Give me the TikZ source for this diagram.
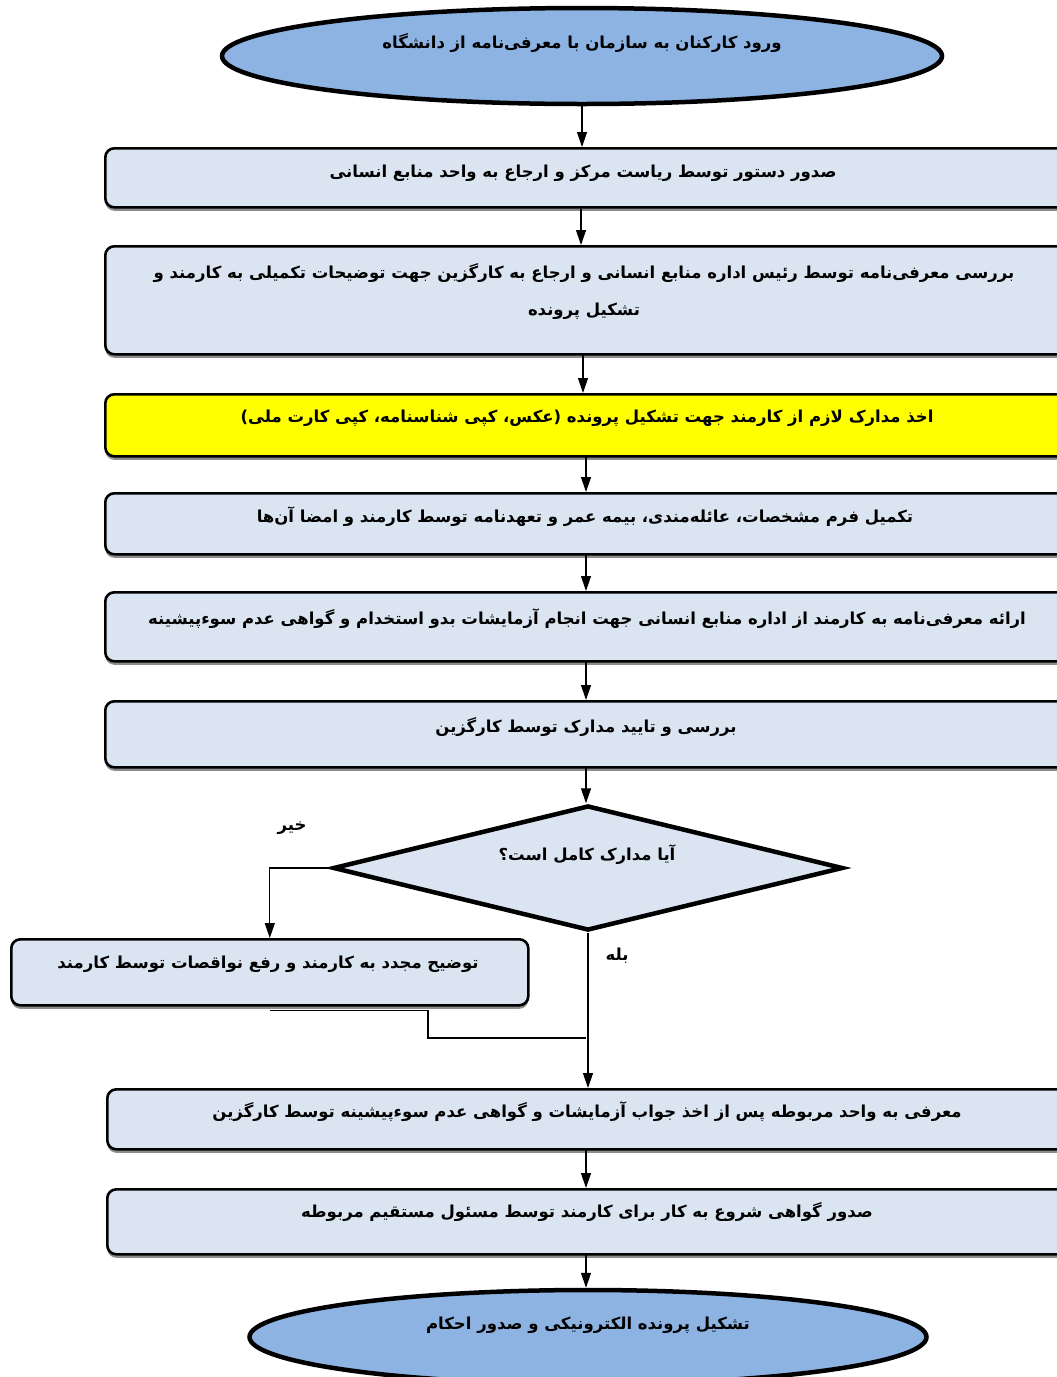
\documentclass[tikz,border=0pt]{standalone}
\usepackage{fontspec}
\newfontfamily\fa[Script=Arabic]{DejaVu Sans}
\TeXXeTstate=1
\usetikzlibrary{shapes.geometric,shadows,arrows.meta}
\definecolor{ellblue}{RGB}{141,179,226}
\definecolor{boxblue}{RGB}{219,229,241}
\definecolor{yel}{RGB}{255,255,0}
\newcommand\rtl[1]{\beginR #1\endR}
\begin{document}
\begin{tikzpicture}[x=1pt,y=-1pt,
  shad/.style={drop shadow={shadow xshift=0pt,shadow yshift=-3.5pt,fill=black!45,opacity=1}},
  procbox/.style={draw=black,line width=2.6pt,rounded corners=9pt,fill=boxblue,shad,anchor=north west,minimum width=976pt,inner sep=0pt},
  term/.style={ellipse,draw=black,line width=4.5pt,fill=ellblue,inner sep=0pt},
  txt/.style={font=\fa\bfseries\fontsize{16.5}{37}\selectfont,inner sep=0pt,align=center},
  lbl/.style={font=\fa\bfseries\fontsize{16.5}{18}\selectfont,inner sep=0pt},
  arr/.style={line width=1.3pt,-{Triangle[length=15pt,width=10pt]}},
  conn/.style={line width=1.3pt}]
\useasboundingbox (0,0) rectangle (1057,1377);
\clip (0,0) rectangle (1057,1377);

% terminals and boxes
\node[term,minimum width=720pt,minimum height=96pt] (e1) at (582,56) {};
\node[procbox,minimum height=59pt] (b1) at (104,147) {};
\node[procbox,minimum height=108pt] (b2) at (104,245) {};
\node[procbox,minimum height=62pt,fill=yel] (b3) at (104,393) {};
\node[procbox,minimum height=61pt] (b4) at (104,492) {};
\node[procbox,minimum height=69pt] (b5) at (104,591) {};
\node[procbox,minimum height=66pt] (b6) at (104,700) {};
\node[diamond,draw=black,line width=4.5pt,fill=boxblue,minimum width=510pt,minimum height=125pt,aspect=4,inner sep=0pt] (d) at (588,868) {};
\node[procbox,minimum width=517pt,minimum height=66pt] (b7) at (10,938) {};
\node[procbox,minimum height=60pt] (b8) at (106,1088) {};
\node[procbox,minimum height=65pt] (b9) at (106,1188) {};
\node[term,minimum width=677pt,minimum height=94pt] (e2) at (588,1337) {};

% texts
\node[txt] (t0) at (582,43) {\rtl{ورود کارکنان به سازمان با معرفی^^^^200cنامه از دانشگاه}};
\node[txt] (t1) at (583,173) {\rtl{صدور دستور توسط ریاست مرکز و ارجاع به واحد منابع انسانی}};
\node[txt] (t2) at (584,292) {\rtl{بررسی معرفی^^^^200cنامه توسط رئیس اداره منابع انسانی و ارجاع به کارگزین جهت توضیحات تکمیلی به کارمند و}\\\rtl{تشکیل پرونده}};
\node[txt] (t3) at (587,418) {\rtl{اخذ مدارک لازم از کارمند جهت تشکیل پرونده (عکس، کپی شناسنامه، کپی کارت ملی)}};
\node[txt] (t4) at (585,517) {\rtl{تکمیل فرم مشخصات، عائله^^^^200cمندی، بیمه عمر و تعهدنامه توسط کارمند و امضا آن^^^^200cها}};
\node[txt] (t5) at (587,619) {\rtl{ارائه معرفی^^^^200cنامه به کارمند از اداره منابع انسانی جهت انجام آزمایشات بدو استخدام و گواهی عدم سوءپیشینه}};
\node[txt] (t6) at (586,727) {\rtl{بررسی و تایید مدارک توسط کارگزین}};
\node[txt] (t7) at (587,855) {\rtl{آیا مدارک کامل است؟}};
\node[txt] (t8) at (268,964) {\rtl{توضیح مجدد به کارمند و رفع نواقصات توسط کارمند}};
\node[txt] (t9) at (587,1112) {\rtl{معرفی به واحد مربوطه پس از اخذ جواب آزمایشات و گواهی عدم سوءپیشینه توسط کارگزین}};
\node[txt] (t10) at (587,1212) {\rtl{صدور گواهی شروع به کار برای کارمند توسط مسئول مستقیم مربوطه}};
\node[txt] (t11) at (588,1325) {\rtl{تشکیل پرونده الکترونیکی و صدور احکام}};
\node[lbl] (no) at (292,828) {\rtl{خیر}};
\node[lbl] (yes) at (617,956) {\rtl{بله}};

% connectors
\draw[arr] (e1.south) -- (e1.south |- b1.north);
\draw[arr] ([xshift=-1pt]e1.south |- b1.south) -- ([xshift=-1pt]e1.south |- b2.north);
\draw[arr] (583,353) coordinate (c2) -- (c2 |- b3.north);
\draw[arr] (586,455) coordinate (c3) -- (c3 |- b4.north);
\draw[arr] (586,553) coordinate (c4) -- (c4 |- b5.north);
\draw[arr] (586,660) coordinate (c5) -- (c5 |- b6.north);
\draw[arr] (586,766) coordinate (c6) -- (c6 |- d.north);
\draw[arr] (d.west) -| (b7.north);
\draw[arr] (d.south) -- (d.south |- b8.north);
\coordinate (j1) at (428,1038);
\coordinate (j2) at (586,1038);
\draw[conn] ([yshift=-4pt]b7.south) -| (j1) -- (j2);
\draw[arr] (586,1148) coordinate (c8) -- (c8 |- b9.north);
\draw[arr] (586,1253) coordinate (c9) -- (c9 |- e2.north);
\end{tikzpicture}
\end{document}
